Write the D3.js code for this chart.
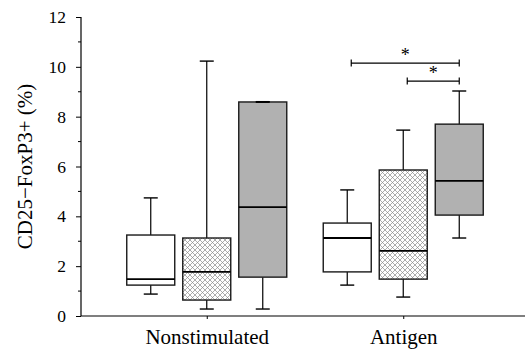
<!DOCTYPE html>
<html>
<head>
<meta charset="utf-8">
<script src="https://cdn.jsdelivr.net/npm/d3@7"></script>
<style>
  body { margin: 0; background: #fff; }
  svg { display: block; }
</style>
</head>
<body>
<div id="chart"></div>
<script>
// Groups on the x axis and the three series drawn in each
const groups = ["Nonstimulated", "Antigen"];
const series = ["white", "hatched", "grey"];

// Box stats per group, in series order: [min, q1, median, q3, max]
const nonstimulatedStats = [
  [0.88, 1.24, 1.48, 3.25, 4.74],
  [0.28, 0.64, 1.77, 3.13, 10.23],
  [0.28, 1.56, 4.37, 8.59, 8.59],
];
const antigenStats = [
  [1.24, 1.77, 3.13, 3.73, 5.06],
  [0.76, 1.48, 2.61, 5.86, 7.46],
  [3.13, 4.05, 5.42, 7.70, 9.03],
];

// Significance brackets inside the Antigen group
const brackets = [
  { group: "Antigen", from: "white", to: "grey", level: 10.15, label: "*" },
  { group: "Antigen", from: "hatched", to: "grey", level: 9.43, label: "*" },
];

const yTicks = [0, 2, 4, 6, 8, 10, 12];
const yMinorTicks = [1, 3, 5, 7, 9, 11];

const serif = "Liberation Serif";
const width = 525, height = 352;
const margin = { top: 17, right: 0, bottom: 36, left: 81 };

const svg = d3.select("#chart").append("svg")
  .attr("width", width).attr("height", height);

// Crosshatch pattern for the middle series
const defs = svg.append("defs");
const pat = defs.append("pattern")
  .attr("id", "xhatch")
  .attr("patternUnits", "userSpaceOnUse")
  .attr("width", 5).attr("height", 5);
pat.append("rect").attr("width", 5).attr("height", 5).attr("fill", "#fff");
pat.append("path").attr("d", "M0,0L5,5M5,0L0,5")
  .attr("stroke", "#8a8a8a").attr("stroke-width", 0.7);

const y = d3.scaleLinear().domain([0, 12]).range([height - margin.bottom, margin.top]);
const x = d3.scalePoint().domain(groups).range([margin.left, 529]).padding(0.64);
const inner = d3.scaleBand().domain(series).range([-84, 84])
  .paddingInner(0.143).paddingOuter(0.0714);

const fills = { white: "#fff", hatched: "url(#xhatch)", grey: "#b1b1b1" };

const boxData = [];
groups.forEach((g, gi) => {
  const stats = gi === 0 ? nonstimulatedStats : antigenStats;
  series.forEach((s, si) => {
    const [min, q1, med, q3, max] = stats[si];
    boxData.push({ group: g, series: s, min, q1, med, q3, max });
  });
});

const cx = (g, s) => x(g) + inner(s) + inner.bandwidth() / 2;
const capW = 7;

// Y axis
const yAxis = svg.append("g").attr("transform", `translate(${margin.left},0)`);
yAxis.call(d3.axisLeft(y).tickValues(yTicks).tickSize(5).tickPadding(10).tickFormat(d3.format("d")));
yAxis.attr("font-family", serif);
yAxis.selectAll(".domain").attr("stroke", "#000").attr("stroke-width", 1.2)
  .attr("d", `M0,${y(0)}V${y(12)}`);
yAxis.selectAll(".tick line").attr("stroke", "#000").attr("stroke-width", 1);
yAxis.selectAll(".tick text").attr("font-size", 17.5).attr("fill", "#000")
  .attr("font-family", serif);
yAxis.selectAll(".minor").data(yMinorTicks).join("line")
  .attr("class", "minor")
  .attr("x1", -3).attr("x2", 0)
  .attr("y1", d => y(d)).attr("y2", d => y(d))
  .attr("stroke", "#000").attr("stroke-width", 1);

// X axis
const xAxis = svg.append("g").attr("transform", `translate(0,${y(0)})`);
xAxis.call(d3.axisBottom(x).tickSize(3));
xAxis.attr("font-family", serif);
xAxis.select(".domain").attr("stroke", "#000").attr("stroke-width", 1.2)
  .attr("d", `M${margin.left},0H${width}`);
xAxis.selectAll(".tick line").attr("stroke", "#000");
xAxis.selectAll(".tick text").attr("font-size", 21).attr("fill", "#000")
  .attr("font-family", serif)
  .attr("dy", null).attr("y", 28);

// Y label
svg.append("text")
  .attr("transform", `translate(25,${(y(0) + y(12)) / 2}) rotate(-90)`)
  .attr("text-anchor", "middle")
  .attr("dominant-baseline", "central")
  .attr("font-size", 21)
  .attr("font-family", serif)
  .text("CD25\u2212FoxP3+ (%)");

// Boxes
const boxes = svg.append("g").selectAll("g.box").data(boxData).join("g").attr("class", "box");

boxes.append("line")
  .attr("x1", d => cx(d.group, d.series)).attr("x2", d => cx(d.group, d.series))
  .attr("y1", d => y(d.q3)).attr("y2", d => y(d.max))
  .attr("stroke", "#000").attr("stroke-width", 1.2);
boxes.append("line")
  .attr("x1", d => cx(d.group, d.series)).attr("x2", d => cx(d.group, d.series))
  .attr("y1", d => y(d.q1)).attr("y2", d => y(d.min))
  .attr("stroke", "#000").attr("stroke-width", 1.2);
boxes.selectAll(".cap").data(d => [[d, d.max], [d, d.min]]).join("line")
  .attr("class", "cap")
  .attr("x1", ([d]) => cx(d.group, d.series) - capW)
  .attr("x2", ([d]) => cx(d.group, d.series) + capW)
  .attr("y1", ([, v]) => y(v)).attr("y2", ([, v]) => y(v))
  .attr("stroke", "#000").attr("stroke-width", 1.4);
boxes.append("rect")
  .attr("x", d => x(d.group) + inner(d.series))
  .attr("width", inner.bandwidth())
  .attr("y", d => y(d.q3))
  .attr("height", d => y(d.q1) - y(d.q3))
  .attr("fill", d => fills[d.series])
  .attr("stroke", "#1a1a1a").attr("stroke-width", 1.4);
boxes.append("line")
  .attr("x1", d => x(d.group) + inner(d.series))
  .attr("x2", d => x(d.group) + inner(d.series) + inner.bandwidth())
  .attr("y1", d => y(d.med)).attr("y2", d => y(d.med))
  .attr("stroke", "#000").attr("stroke-width", 1.8);
// whisker cap equal to box top drawn over the box edge
boxes.filter(d => d.max === d.q3).append("line")
  .attr("x1", d => cx(d.group, d.series) - capW)
  .attr("x2", d => cx(d.group, d.series) + capW)
  .attr("y1", d => y(d.max)).attr("y2", d => y(d.max))
  .attr("stroke", "#000").attr("stroke-width", 2);

// Significance brackets
const br = svg.append("g").selectAll("g").data(brackets).join("g");
br.append("path")
  .attr("d", d => {
    const x0 = cx(d.group, d.from) + 4, x1 = cx(d.group, d.to), yy = y(d.level);
    return `M${x0},${yy - 3.5}V${yy + 3.5}M${x0},${yy}H${x1}M${x1},${yy - 3.5}V${yy + 3.5}`;
  })
  .attr("fill", "none").attr("stroke", "#000").attr("stroke-width", 1.2);
br.append("text")
  .attr("x", d => (cx(d.group, d.from) + 4 + cx(d.group, d.to)) / 2)
  .attr("y", d => y(d.level) - 2)
  .attr("text-anchor", "middle")
  .attr("font-size", 18)
  .attr("font-family", serif)
  .text(d => d.label);
</script>
</body>
</html>
